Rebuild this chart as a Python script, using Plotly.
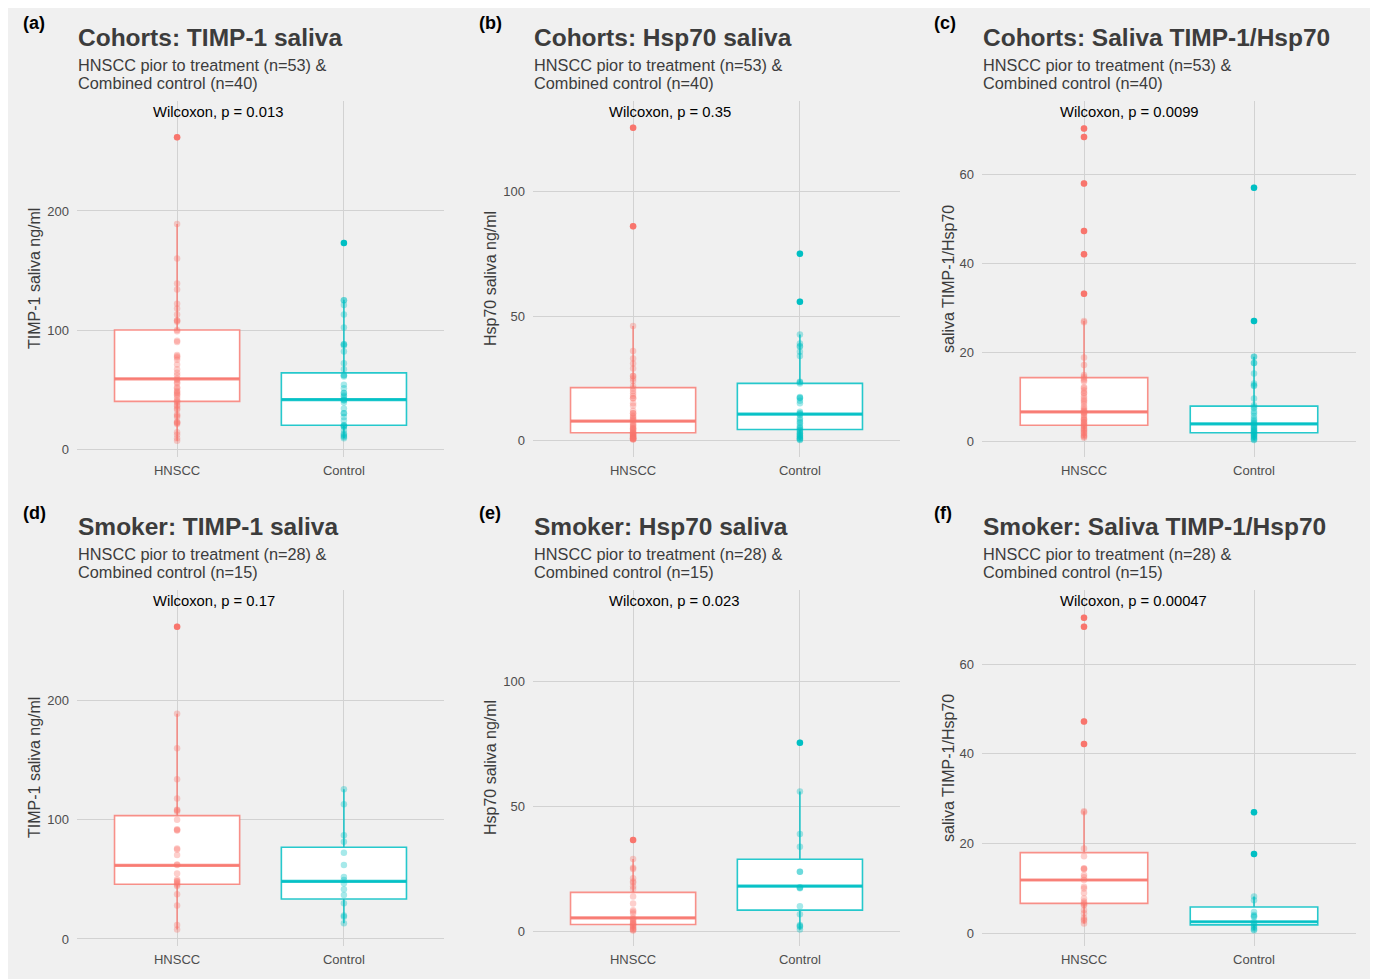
import plotly.graph_objects as go

OX, OY = 8, 8          # page offset of the plot inside the browser window
W, H = 1368, 971
FONT = "Liberation Sans, Arial, Helvetica, sans-serif"
groups = ["HNSCC", "Control"]
colors = ["#F8766D", "#00BFC4"]
line_colors = ["rgba(248,118,109,0.8)", "rgba(0,191,196,0.85)"]

# ---------------- data ----------------
# (a) Cohorts TIMP-1 saliva
a_hnscc = [262, 189, 160, 139, 134, 122, 118, 113, 108, 108, 107, 100, 99, 91, 90, 79, 78, 77, 75, 71,
           67, 64, 62, 59, 58, 56, 55, 52, 51, 49, 48, 47, 46, 45, 43, 41, 40, 39, 37, 36,
           34, 33, 29, 28, 27, 23, 22, 22, 21, 14, 12, 9, 7]
a_control = [173, 125, 125, 121, 113, 102, 88, 88, 87, 82, 72, 67, 62, 62, 61, 54, 51, 47, 47, 45,
             44, 42, 41, 41, 39, 34, 30, 30, 27, 24, 20, 20, 19, 19, 16, 13, 12, 11, 10, 9]
# (b) Cohorts Hsp70 saliva
b_hnscc = [125.5, 86, 46, 36, 33, 31, 29, 26, 26, 25, 24, 22, 21, 20, 19, 18, 17, 17, 15, 14,
           12, 11, 11, 10, 9.5, 9, 8.5, 8, 7, 6.5, 6, 5.5, 5, 4.8, 4.5, 4, 3.5, 3.2, 3, 2.8,
           2.5, 2.2, 2, 1.8, 1.5, 1.3, 1.1, 1, 0.9, 0.8, 0.7, 0.6, 0.5]
b_control = [75, 55.7, 42.6, 39, 38, 37.7, 35.7, 34, 23.7, 23.5, 23, 17.6, 17.2, 17, 16, 15, 11.6, 11, 10.8, 10.3,
             9, 8.3, 7.5, 7, 6, 5.3, 5, 4.3, 4, 3.5, 3, 2.8, 2.3, 2, 1.8, 1.3, 1, 0.8, 0.5, 0.3]
# (c) Cohorts saliva TIMP-1/Hsp70
c_hnscc = [70.3, 68.4, 58, 47.3, 42.1, 33.2, 27.1, 26.8, 18.9, 17.2, 15, 14.6, 14.2, 13.8, 13.5, 12.3, 12, 11.5, 11, 10.8,
           10.2, 9.7, 9.3, 9, 8.5, 7.9, 7.5, 7.1, 6.9, 6.7, 6.5, 6.4, 6, 5.6, 5.2, 5, 4.9, 4.5, 4.3, 4.1,
           3.8, 3.6, 3.4, 3, 2.8, 2.6, 2.3, 2, 1.9, 1.5, 1.3, 1.1, 0.9]
c_control = [57, 27.1, 19.1, 19.1, 17.7, 17.7, 15.3, 13.1, 12.7, 12.5, 9.7, 8.2, 7.8, 7.5, 6.8, 6.4, 5.8, 5.2, 4.8, 4.5,
             4.2, 4, 3.7, 3.4, 3.2, 3, 2.7, 2.5, 2.4, 2.2, 2, 1.8, 1.6, 1.5, 1.3, 1.1, 0.9, 0.7, 0.5, 0.4]
# (d) Smoker TIMP-1 saliva
d_hnscc = [262, 189, 160, 134, 118, 108.5, 108, 107, 100, 92, 91.5, 91, 76, 75, 70.5, 62.5, 62, 55, 50, 48.7,
           48, 46.7, 45.5, 44.5, 37.5, 28, 11.7, 8]
d_control = [125.6, 113, 87, 81.7, 72.4, 62, 52, 49.5, 46.7, 41.7, 37, 30, 19.6, 18.7, 13.1]
# (e) Smoker Hsp70 saliva
e_hnscc = [36.6, 29, 25.5, 25, 21.3, 20, 19.5, 18, 17, 14, 11.3, 8.6, 8, 7.3, 5.5, 5, 4.7, 4, 3.5, 3.3,
           3, 2.5, 2.3, 1.8, 1.3, 1, 0.7, 0.5]
e_control = [75.4, 55.9, 39, 33.9, 23.9, 23.9, 17.7, 17.5, 17.3, 10.2, 7, 2.7, 2.3, 2, 0.9]
# (f) Smoker saliva TIMP-1/Hsp70
f_hnscc = [70.3, 68.3, 47.2, 42.2, 27.2, 27, 18.9, 17.2, 14.5, 14.4, 14.3, 13, 12.5, 11.9, 10.4, 10, 9, 7.8, 7.1, 6.8,
           6.5, 6.3, 5.2, 4.5, 3.5, 3.1, 2.8, 2.2]
f_control = [27, 17.7, 8.2, 7.4, 4.8, 4.1, 3.8, 3.7, 2.6, 2.2, 1.9, 1.5, 1.2, 0.9, 0.7]

# box statistics [HNSCC, Control]
q1 = {"a": [40, 20], "b": [3.2, 4.5], "c": [3.7, 2], "d": [45.9, 33.6], "e": [2.9, 8.6], "f": [6.7, 1.9]}
med = {"a": [59, 41.5], "b": [7.9, 10.7], "c": [6.7, 4], "d": [61.8, 48.4], "e": [5.5, 18.2], "f": [11.9, 2.6]}
q3 = {"a": [100, 64], "b": [21.3, 23], "c": [14.4, 8], "d": [103.5, 77], "e": [15.7, 28.9], "f": [18, 5.9]}
lofence = {"a": [7, 9], "b": [0.5, 0.3], "c": [0.9, 0.4], "d": [8, 13.1], "e": [0.5, 0.9], "f": [2.2, 0.7]}
hifence = {"a": [189, 125.5], "b": [46, 42.6], "c": [27.1, 19.1], "d": [189, 125.6], "e": [29, 55.9], "f": [27.2, 8.2]}

titles = ["Cohorts: TIMP-1 saliva", "Cohorts: Hsp70 saliva", "Cohorts: Saliva TIMP-1/Hsp70",
          "Smoker: TIMP-1 saliva", "Smoker: Hsp70 saliva", "Smoker: Saliva TIMP-1/Hsp70"]
sub1 = ["HNSCC pior to treatment (n=53) &"] * 3 + ["HNSCC pior to treatment (n=28) &"] * 3
sub2 = ["Combined control (n=40)"] * 3 + ["Combined control (n=15)"] * 3
pvals = ["Wilcoxon, p = 0.013", "Wilcoxon, p = 0.35", "Wilcoxon, p = 0.0099",
         "Wilcoxon, p = 0.17", "Wilcoxon, p = 0.023", "Wilcoxon, p = 0.00047"]
ytitles = ["TIMP-1 saliva ng/ml", "Hsp70 saliva ng/ml", "saliva TIMP-1/Hsp70"] * 2
labels = ["(a)", "(b)", "(c)", "(d)", "(e)", "(f)"]
yticks = [[0, 100, 200], [0, 50, 100], [0, 20, 40, 60]] * 2
yranges = [[-6.7, 292.4], [-6.5, 136.2], [-3.43, 76.5], [-5.9, 292.9], [-5.7, 136.3], [-2.8, 76.5]]

data = {"a": (a_hnscc, a_control), "b": (b_hnscc, b_control), "c": (c_hnscc, c_control),
        "d": (d_hnscc, d_control), "e": (e_hnscc, e_control), "f": (f_hnscc, f_control)}

# ---------------- layout geometry (window pixels) ----------------
col_x = [(77, 444), (533, 900), (982, 1356)]
row_y = [(101, 457), (590, 946)]
label_x = [21, 477, 932]
ytitle_x = [34, 490, 948]
title_y = [37, 526]
sub_y = [(65, 83), (554, 572)]
p_y = [112, 601]
label_y = [23, 513]

fig = go.Figure()
layout = dict(width=W, height=H, margin=dict(l=0, r=0, t=0, b=0),
              paper_bgcolor="#F0F0F0", plot_bgcolor="#F0F0F0", showlegend=False,
              font=dict(family=FONT), annotations=[])


def px(x):
    return (x - OX) / W


def py(y):
    return 1 - (y - OY) / H


keys = ["a", "b", "c", "d", "e", "f"]
BW = 0.75
for i, k in enumerate(keys):
    r, c = divmod(i, 3)
    n = i + 1
    xa = "x" if n == 1 else f"x{n}"
    ya = "y" if n == 1 else f"y{n}"
    xname = "xaxis" if n == 1 else f"xaxis{n}"
    yname = "yaxis" if n == 1 else f"yaxis{n}"
    x0, x1 = col_x[c]
    y0, y1 = row_y[r]
    layout[xname] = dict(domain=[px(x0), px(x1)], range=[0.4, 2.6], anchor=ya,
                         tickvals=[1, 2], ticktext=groups, showgrid=True, gridcolor="#D2D2D2",
                         gridwidth=1, zeroline=False, showline=False, ticks="",
                         tickfont=dict(size=13, color="#4D4D4D", family=FONT), ticklabelstandoff=4,
                         fixedrange=True)
    layout[yname] = dict(domain=[py(y1), py(y0)], range=yranges[i], anchor=xa,
                         tickvals=yticks[i], showgrid=True, gridcolor="#D2D2D2", gridwidth=1,
                         zeroline=False, showline=False, ticks="",
                         tickfont=dict(size=13, color="#4D4D4D", family=FONT), ticklabelstandoff=7,
                         fixedrange=True)
    for g in range(2):
        pos = g + 1
        vals = data[k][g]
        fig.add_trace(go.Box(x=[pos], q1=[q1[k][g]], median=[med[k][g]], q3=[q3[k][g]],
                             lowerfence=[lofence[k][g]], upperfence=[hifence[k][g]],
                             width=BW, whiskerwidth=0, fillcolor="white",
                             line=dict(color=line_colors[g], width=1.6), boxpoints=False,
                             xaxis=xa, yaxis=ya, hoverinfo="skip"))
        fig.add_trace(go.Scatter(x=[pos - BW / 2, pos + BW / 2], y=[med[k][g], med[k][g]], mode="lines",
                                 line=dict(color=line_colors[g], width=3.2), xaxis=xa, yaxis=ya,
                                 hoverinfo="skip"))
        outl = [v for v in vals if v > hifence[k][g] or v < lofence[k][g]]
        if outl:
            fig.add_trace(go.Scatter(x=[pos] * len(outl), y=outl, mode="markers",
                                     marker=dict(size=6.5, color=colors[g], line=dict(width=0)),
                                     xaxis=xa, yaxis=ya))
        fig.add_trace(go.Scatter(x=[pos] * len(vals), y=vals, mode="markers",
                                 marker=dict(size=6.5, color=colors[g], opacity=0.35, line=dict(width=0)),
                                 xaxis=xa, yaxis=ya))
    ann = layout["annotations"]
    ann.append(dict(text=labels[i], xref="paper", yref="paper", x=px(label_x[c]), y=py(label_y[r]),
                    xanchor="left", yanchor="middle", showarrow=False,
                    font=dict(size=18, color="black", family=FONT, weight="bold")))
    ann.append(dict(text=titles[i], xref="paper", yref="paper", x=px(x0 - 1), y=py(title_y[r]),
                    xanchor="left", yanchor="middle", showarrow=False,
                    font=dict(size=24.5, color="#3C3C3C", family=FONT, weight="bold")))
    for line, yy in zip([sub1[i], sub2[i]], sub_y[r]):
        ann.append(dict(text=line, xref="paper", yref="paper", x=px(x0 - 1), y=py(yy),
                        xanchor="left", yanchor="middle", showarrow=False,
                        font=dict(size=16.3, color="#3C3C3C", family=FONT)))
    ann.append(dict(text=pvals[i], xref=xa, yref="paper", x=0.845, y=py(p_y[r]),
                    xanchor="left", yanchor="middle", showarrow=False,
                    font=dict(size=14.8, color="black", family=FONT)))
    ann.append(dict(text=ytitles[i], xref="paper", yref="paper", x=px(ytitle_x[c]),
                    y=py((y0 + y1) / 2), xanchor="center", yanchor="middle", textangle=-90,
                    showarrow=False, font=dict(size=16, color="#3C3C3C", family=FONT)))

fig.update_layout(**layout)
fig.write_html("out.html")
